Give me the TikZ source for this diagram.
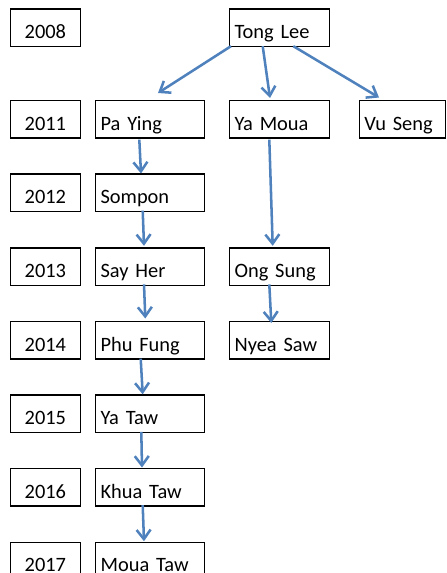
\documentclass[tikz,border=0pt]{standalone}
\usepackage{fontspec}
\setmainfont{Carlito}
\usetikzlibrary{arrows.meta,calc}
\begin{document}
\begin{tikzpicture}[x=0.75pt,y=-0.75pt,
  box/.style={draw=black,line width=0.9pt,anchor=north west,inner ysep=0pt,inner xsep=3.75pt,
    text height=22.1pt,text depth=6pt,font=\fontsize{15.3}{18}\selectfont},
  yearbox/.style={box,text width=70.5*0.75pt-7.5pt,align=center},
  namebox/.style={box,align=left},
  colA/.style={namebox,text width=109*0.75pt-7.5pt},
  colB/.style={namebox,text width=99.5*0.75pt-7.5pt},
  colC/.style={namebox,text width=86.5*0.75pt-7.5pt},
  link/.style={draw={rgb,255:red,79;green,129;blue,189},line width=1.9pt,
    -{Straight Barb[length=7pt,width=10.5pt,line width=1.9pt]}}]
\useasboundingbox (0,0) rectangle (446,573);
% year boxes
\node[yearbox] (y08) at (9.5,8.5) {2008};
\node[yearbox] (y11) at (9.5,100) {2011};
\node[yearbox] (y12) at (9.5,173.5) {2012};
\node[yearbox] (y13) at (9.5,247.3) {2013};
\node[yearbox] (y14) at (9.5,321) {2014};
\node[yearbox] (y15) at (9.5,394.3) {2015};
\node[yearbox] (y16) at (9.5,468) {2016};
\node[yearbox] (y17) at (9.5,541.7) {2017};
% names
\node[colB] (tong) at (229,8.5) {Tong Lee};
\node[colA] (pay) at (95,100) {Pa Ying};
\node[colB] (yam) at (229,100) {Ya Moua};
\node[colC] (vus) at (358.7,100) {Vu Seng};
\node[colA] (som) at (95,173.5) {Sompon};
\node[colA] (say) at (95,247.3) {Say Her};
\node[colB] (ong) at (229,247.3) {Ong Sung};
\node[colA] (phu) at (95,321) {Phu Fung};
\node[colB] (nye) at (229,321) {Nyea Saw};
\node[colA] (yat) at (95,394.3) {Ya Taw};
\node[colA] (khu) at (95,468) {Khua Taw};
\node[colA] (mou) at (95,541.7) {Moua Taw};
% connectors
\draw[link] ([shift={(2,-1)}]tong.south west) -- ([shift={(63,-7)}]pay.north west);
\draw[link] ([shift={(33.7,-1)}]tong.south west) -- ([shift={(41,-2)}]yam.north west);
\draw[link] ([shift={(64.3,-1)}]tong.south west) -- ([shift={(20.3,-2.5)}]vus.north west);
\draw[link] ([shift={(44.3,1)}]pay.south west) -- ([shift={(46,0)}]som.north west);
\draw[link] ([shift={(40.3,1)}]yam.south west) -- ([shift={(43.7,-1.5)}]ong.north west);
\draw[link] ([shift={(47.7,-1.5)}]som.south west) -- ([shift={(49,-1.5)}]say.north west);
\draw[link] ([shift={(49,-1.5)}]say.south west) -- ([shift={(50.3,-2.5)}]phu.north west);
\draw[link] ([shift={(40.3,-1.5)}]ong.south west) -- ([shift={(42.3,2)}]nye.north west);
\draw[link] ([shift={(45.7,-1)}]phu.south west) -- ([shift={(47.7,0)}]yat.north west);
\draw[link] ([shift={(46.3,-1)}]yat.south west) -- ([shift={(47,-0.5)}]khu.north west);
\draw[link] ([shift={(47.7,-1.5)}]khu.south west) -- ([shift={(49,-0.5)}]mou.north west);
\end{tikzpicture}
\end{document}
